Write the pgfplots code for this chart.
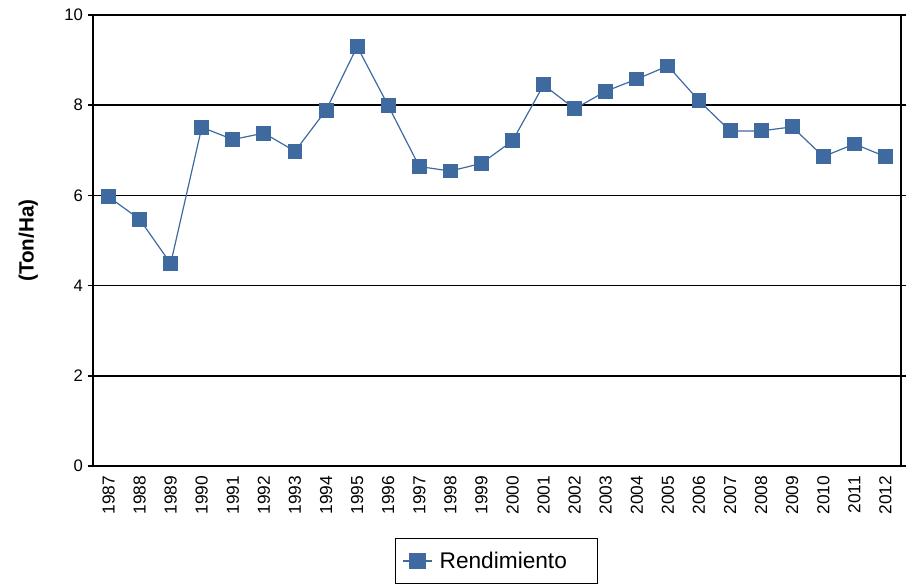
\documentclass[border=0pt]{standalone}
\usepackage{pgfplots}
\usepackage{pgfplotstable}
\pgfplotsset{compat=1.18}
\usepackage{fontspec}
\setmainfont{Liberation Sans}
\definecolor{serie}{RGB}{63,106,160}
\pgfplotstableread{
year val
1987 5.97
1988 5.47
1989 4.49
1990 7.51
1991 7.24
1992 7.38
1993 6.98
1994 7.89
1995 9.30
1996 7.99
1997 6.64
1998 6.54
1999 6.71
2000 7.21
2001 8.45
2002 7.92
2003 8.31
2004 8.58
2005 8.87
2006 8.10
2007 7.43
2008 7.43
2009 7.52
2010 6.86
2011 7.14
2012 6.86
}\datatable
\begin{document}
\begin{tikzpicture}
\useasboundingbox (-69.75pt,-87.75pt) rectangle (612pt,349.5pt);
\begin{axis}[
  at={(0,0)}, anchor=south west,
  scale only axis, width=606pt, height=338.25pt,
  xmin=-0.5, xmax=25.5, ymin=0, ymax=10,
  ytick={0,2,4,6,8,10},
  xtick={0,...,25},
  xticklabels={1987,1988,1989,1990,1991,1992,1993,1994,1995,1996,1997,1998,1999,2000,2001,2002,2003,2004,2005,2006,2007,2008,2009,2010,2011,2012},
  /pgf/number format/assume math mode=true,
  ticklabel style={font=\fontsize{12.5}{14}\selectfont, text=black},
  xticklabel style={rotate=90, anchor=east, font=\fontsize{13}{14}\selectfont},
  x tick style={draw=none},
  y tick style={black, line width=1.1pt},
  tick align=outside, major tick length=4pt,
  ymajorgrids, grid style={black, line width=1.2pt},
  axis line style={black, line width=1.2pt},
  ylabel={(Ton/Ha)},
  ylabel style={at={(axis description cs:-0.08,0.5)}, anchor=center, font=\bfseries\fontsize{15.5}{17}\selectfont},
  legend style={at={(axis description cs:0.3736,-0.1596)}, anchor=north west, draw=black, line width=0.8pt, font=\fontsize{17}{20}\selectfont, inner xsep=5pt, inner ysep=8pt, row sep=0pt},
  legend image code/.code={\draw[#1, line width=1.2pt] (0pt,0pt) -- (22pt,0pt); \draw[#1, mark repeat=1] plot[mark=square*, mark options={scale=1.1}] coordinates {(11pt,0pt)};},
]
\addplot[color=serie, line width=0.9pt, mark=square*, mark size=5.2pt, mark options={fill=serie, draw=serie, line width=0pt}] table[x expr=\coordindex, y=val] {\datatable};
\addlegendentry{\mbox{}\hspace{3pt}Rendimiento\hspace{16pt}\mbox{}}
\end{axis}
\end{tikzpicture}
\end{document}
